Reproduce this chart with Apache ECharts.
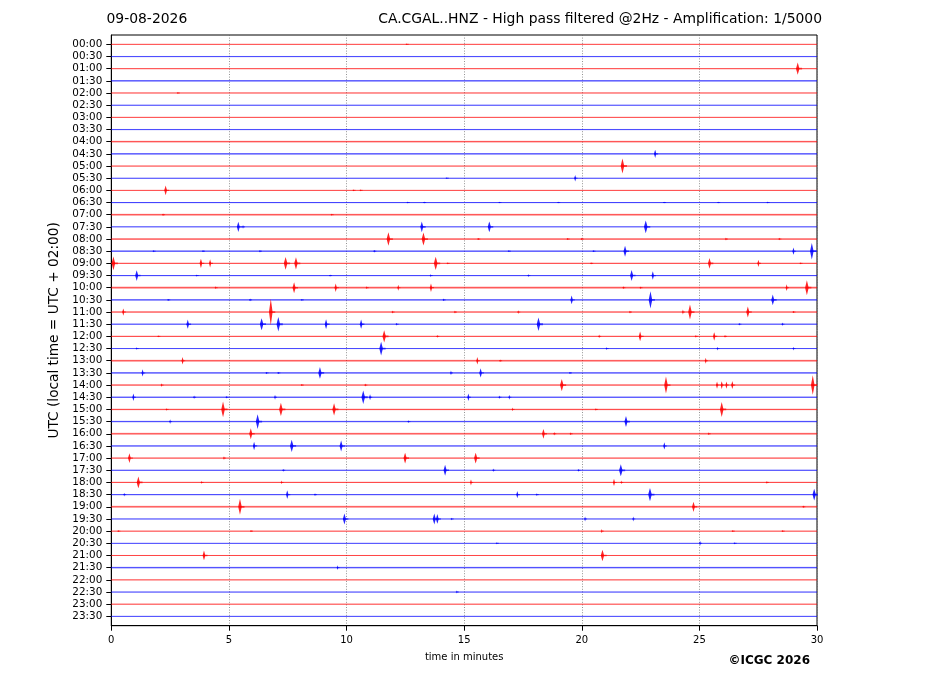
<!DOCTYPE html>
<html>
<head>
<meta charset="utf-8">
<script src="https://cdn.jsdelivr.net/npm/echarts@6/dist/echarts.min.js"></script>
<style>html,body{margin:0;padding:0;background:#fff;}#c{width:927px;height:696px;}</style>
</head>
<body>
<div id="c"></div>
<script>
// ---- data ----
var dateLabel = '09-08-2026';
var titleText = 'CA.CGAL..HNZ - High pass filtered @2Hz - Amplification: 1/5000';
var rowLabels = ['00:00','00:30','01:00','01:30','02:00','02:30','03:00','03:30','04:00','04:30','05:00','05:30',
  '06:00','06:30','07:00','07:30','08:00','08:30','09:00','09:30','10:00','10:30','11:00','11:30',
  '12:00','12:30','13:00','13:30','14:00','14:30','15:00','15:30','16:00','16:30','17:00','17:30',
  '18:00','18:30','19:00','19:30','20:00','20:30','21:00','21:30','22:00','22:30','23:00','23:30'];
var xTicks = [0, 5, 10, 15, 20, 25, 30];
// background noise half-amplitude per row (in row-spacing units)
var rowNoise = [0.03,0.02,0.03,0.07,0.03,0.02,0.03,0.02,0.07,0.07,0.03,0.02,
  0.03,0.05,0.08,0.04,0.07,0.07,0.05,0.05,0.09,0.07,0.06,0.05,
  0.05,0.04,0.09,0.07,0.06,0.07,0.06,0.06,0.09,0.06,0.05,0.05,
  0.05,0.06,0.08,0.04,0.03,0.03,0.03,0.07,0.03,0.02,0.03,0.02];
// events: [row index, minute, half-amplitude (row-spacing units)]
var events = [
[0,12.56,0.06],
[2,29.18,0.5],
[4,2.83,0.06],
[9,23.12,0.34],
[10,21.73,0.62],
[11,19.72,0.27],[11,14.26,0.06],
[12,2.31,0.4],[12,10.3,0.08],[12,10.6,0.08],
[13,12.6,0.08],[13,13.3,0.08],[13,16.5,0.06],[13,19.0,0.07],[13,23.5,0.07],[13,25.8,0.07],[13,27.9,0.08],
[14,2.2,0.1],[14,9.37,0.08],
[15,5.4,0.42],[15,5.6,0.15],[15,13.2,0.44],[15,16.07,0.45],[15,22.72,0.52],
[16,11.78,0.55],[16,13.27,0.53],[16,26.13,0.12],[16,15.6,0.1],[16,19.4,0.1],[16,20.0,0.1],[16,28.4,0.1],
[17,21.84,0.45],[17,29.0,0.3],[17,29.78,0.68],[17,6.32,0.1],[17,11.18,0.12],[17,16.9,0.08],[17,20.5,0.08],[17,1.8,0.08],[17,3.9,0.08],
[18,0.09,0.57],[18,3.81,0.38],[18,4.2,0.33],[18,7.41,0.52],[18,7.85,0.5],[18,13.79,0.55],[18,25.43,0.44],[18,27.51,0.3],[18,14.3,0.08],[18,20.4,0.08],[18,29.3,0.08],
[19,1.08,0.44],[19,22.12,0.45],[19,23.02,0.35],[19,17.73,0.12],[19,13.58,0.12],[19,3.63,0.08],[19,9.3,0.08],
[20,7.77,0.45],[20,9.54,0.35],[20,12.2,0.25],[20,13.59,0.35],[20,4.44,0.12],[20,10.86,0.12],[20,28.71,0.28],[20,29.57,0.62],[20,21.77,0.12],[20,22.5,0.1],
[21,19.57,0.36],[21,22.92,0.7],[21,28.12,0.44],[21,14.13,0.12],[21,5.9,0.12],[21,2.42,0.1],[21,8.1,0.08],
[22,6.78,1.1],[22,0.51,0.3],[22,24.6,0.62],[22,24.3,0.2],[22,27.06,0.45],[22,17.3,0.15],[22,22.05,0.12],[22,14.61,0.12],[22,11.96,0.12],[22,29.0,0.1],
[23,3.25,0.38],[23,6.39,0.5],[23,7.1,0.6],[23,9.13,0.4],[23,10.62,0.38],[23,18.16,0.55],[23,28.53,0.15],[23,12.13,0.12],[23,26.7,0.1],
[24,11.6,0.5],[24,22.48,0.4],[24,25.63,0.35],[24,20.74,0.15],[24,24.85,0.12],[24,26.09,0.12],[24,13.86,0.12],[24,2.0,0.08],
[25,11.47,0.56],[25,21.06,0.12],[25,25.77,0.15],[25,29.0,0.15],[25,1.08,0.1],
[26,3.03,0.3],[26,15.56,0.3],[26,25.27,0.25],[26,16.53,0.1],
[27,1.33,0.3],[27,8.87,0.48],[27,15.7,0.38],[27,14.44,0.2],[27,6.6,0.1],[27,7.1,0.1],[27,19.5,0.08],
[28,19.15,0.5],[28,23.58,0.7],[28,25.75,0.3],[28,25.95,0.32],[28,26.15,0.3],[28,26.4,0.33],[28,29.82,0.8],[28,2.14,0.15],[28,10.8,0.12],[28,8.1,0.1],
[29,0.94,0.3],[29,10.71,0.55],[29,11.0,0.25],[29,6.96,0.2],[29,15.18,0.3],[29,16.92,0.2],[29,16.5,0.15],[29,3.52,0.15],[29,4.9,0.1],
[30,4.75,0.65],[30,7.21,0.55],[30,9.47,0.5],[30,25.95,0.62],[30,17.06,0.15],[30,2.35,0.1],[30,20.6,0.1],
[31,6.22,0.6],[31,2.5,0.2],[31,21.88,0.45],[31,12.63,0.12],
[32,5.93,0.45],[32,18.37,0.4],[32,18.83,0.15],[32,19.53,0.12],[32,25.4,0.12],
[33,6.07,0.35],[33,7.67,0.5],[33,9.77,0.45],[33,23.51,0.3],
[34,0.77,0.4],[34,12.49,0.45],[34,15.49,0.45],[34,4.79,0.15],
[35,14.19,0.45],[35,21.66,0.5],[35,16.24,0.15],[35,19.86,0.12],[35,7.31,0.12],
[36,1.15,0.48],[36,7.24,0.15],[36,3.84,0.12],[36,21.37,0.3],[36,15.29,0.25],[36,21.68,0.15],[36,27.87,0.12],
[37,7.48,0.35],[37,17.26,0.3],[37,22.9,0.55],[37,29.88,0.48],[37,0.55,0.15],[37,8.66,0.12],[37,18.09,0.12],
[38,5.47,0.66],[38,24.75,0.42],[38,29.42,0.1],
[39,9.91,0.45],[39,13.73,0.45],[39,13.86,0.4],[39,20.14,0.2],[39,22.19,0.2],[39,14.47,0.1],
[40,20.85,0.18],[40,26.42,0.1],[40,28.54,0.1],[40,5.94,0.1],[40,0.3,0.08],
[41,25.03,0.2],[41,16.39,0.08],[41,26.5,0.08],
[42,3.94,0.4],[42,20.88,0.48],
[43,9.62,0.2],
[45,14.69,0.12]
];

// ---- chart ----
var COLORS = ['#ff0000', '#0000ff'];
var rowData = rowNoise.map(function (n, i) { return [i, n]; });
var chart = echarts.init(document.getElementById('c'), null, {renderer: 'canvas'});
var FONT = 'DejaVu Sans';

function renderRow(params, api) {
  var row = api.value(0), n = api.value(1);
  var col = COLORS[row % 2];
  var p0 = api.coord([0, row]), p1 = api.coord([30, row]);
  var yA = api.coord([0, row - n])[1], yB = api.coord([0, row + n])[1];
  var top = Math.min(yA, yB), h = Math.max(1, Math.abs(yB - yA));
  return {
    type: 'group',
    children: [
      {type: 'rect', shape: {x: p0[0], y: top, width: p1[0] - p0[0], height: h},
       style: {fill: col, opacity: 0.3}},
      {type: 'line', shape: {x1: p0[0], y1: p0[1], x2: p1[0], y2: p1[1]},
       style: {stroke: col, lineWidth: 1, opacity: 0.62}}
    ]
  };
}

function renderEvent(params, api) {
  var row = api.value(0), t = api.value(1), a = api.value(2);
  var col = COLORS[row % 2];
  var c = api.coord([t, row]);
  var yT = api.coord([t, row - a])[1], yB = api.coord([t, row + a])[1];
  var top = Math.min(yT, yB), bot = Math.max(yT, yB);
  var h = bot - top;
  var w = Math.max(0.6, Math.min(1.8, a * 3.5));
  var x = c[0], yc = c[1];
  return {
    type: 'group',
    children: [
      {type: 'polygon', shape: {points: [
        [x, top], [x + w * 0.4, yc - h * 0.3], [x + w, yc], [x + w * 0.4, yc + h * 0.3],
        [x, bot], [x - w * 0.4, yc + h * 0.3], [x - w, yc], [x - w * 0.4, yc - h * 0.3]
      ]}, style: {fill: col, opacity: 0.85}},
      {type: 'line', shape: {x1: x - 1, y1: yc, x2: x + Math.max(2, w * 2.5), y2: yc},
       style: {stroke: col, lineWidth: Math.max(1, w), opacity: 0.6}}
    ]
  };
}

var option = {
  animation: false,
  backgroundColor: '#fff',
  grid: {left: 111.3, right: 110, top: 35, bottom: 70.3, show: true, borderColor: '#000', borderWidth: 1, backgroundColor: 'transparent'},
  xAxis: {
    type: 'value', min: 0, max: 30, interval: 5, position: 'bottom',
    name: 'time in minutes', nameLocation: 'middle', nameGap: 27,
    nameTextStyle: {fontFamily: FONT, fontSize: 10, color: '#000'},
    axisLine: {show: true, onZero: false, lineStyle: {color: '#000', width: 1}},
    axisTick: {show: true, length: 5, lineStyle: {color: '#000'}},
    axisLabel: {fontFamily: FONT, fontSize: 10, color: '#000', margin: 10,
      customValues: xTicks, formatter: function (v) { return String(v); }},
    splitLine: {show: true, lineStyle: {color: '#666', width: 0.7, type: [1, 1.6]}}
  },
  yAxis: {
    type: 'value', inverse: true, min: -0.764, max: 47.77, position: 'left',
    name: 'UTC (local time = UTC + 02:00)', nameLocation: 'middle', nameGap: 46,
    nameTextStyle: {fontFamily: FONT, fontSize: 13.7, color: '#000'},
    axisLine: {show: true, onZero: false, lineStyle: {color: '#000', width: 1}},
    axisTick: {show: true, length: 5, lineStyle: {color: '#000'}, customValues: rowLabels.map(function (l, i) { return i; })},
    axisLabel: {fontFamily: FONT, fontSize: 10.4, color: '#000', margin: 9,
      customValues: rowLabels.map(function (l, i) { return i; }),
      formatter: function (v) { return rowLabels[Math.round(v)] || ''; }},
    splitLine: {show: false}
  },
  graphic: [
    {type: 'text', left: 106.5, top: 12, style: {text: dateLabel, font: '13.9px "DejaVu Sans"', fill: '#000'}},
    {type: 'text', right: 105, top: 12, style: {text: titleText, font: '13.9px "DejaVu Sans"', fill: '#000'}},
    {type: 'text', left: 728.5, top: 655, style: {text: '\u00A9ICGC 2026', font: 'bold 12px "DejaVu Sans"', fill: '#000'}}
  ],
  series: [
    {type: 'custom', name: 'rows', coordinateSystem: 'cartesian2d', clip: true,
     renderItem: renderRow, data: rowData, encode: {x: -1, y: 0}, silent: true, z: 2},
    {type: 'custom', name: 'events', coordinateSystem: 'cartesian2d', clip: true,
     renderItem: renderEvent, data: events, encode: {x: 1, y: 0}, silent: true, z: 3}
  ]
};
chart.setOption(option);
</script>
</body>
</html>
